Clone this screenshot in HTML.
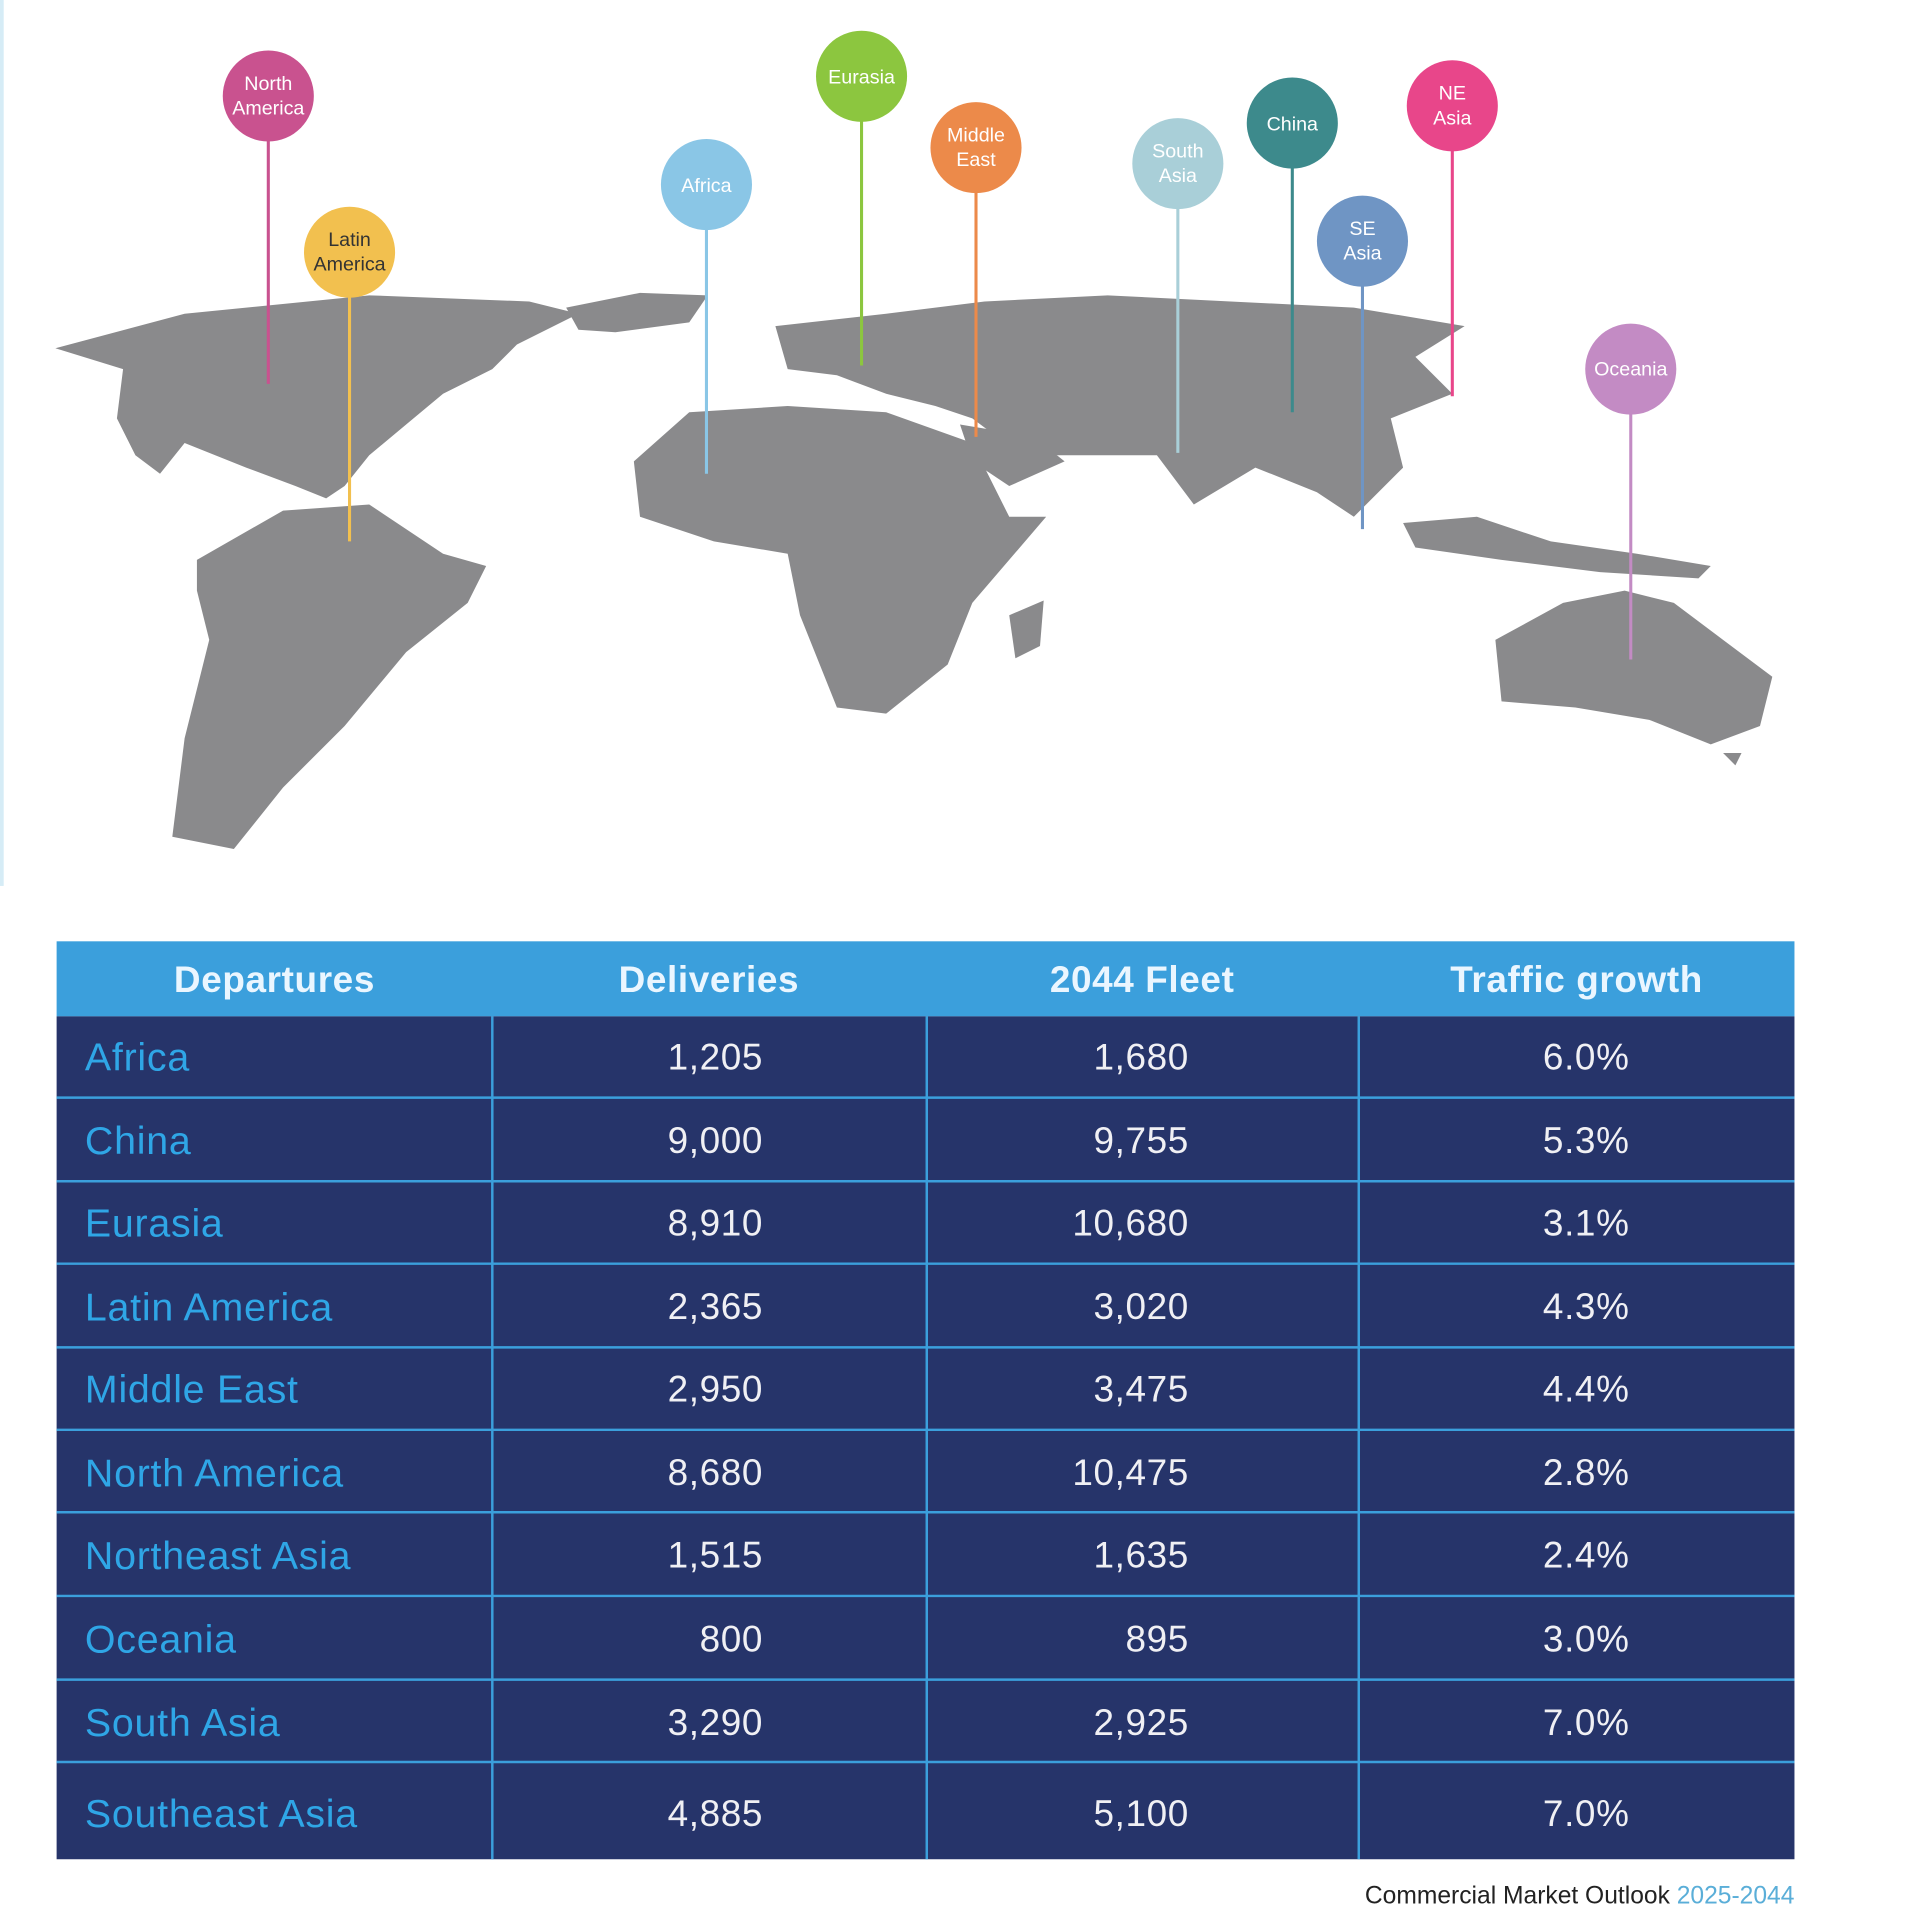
<!DOCTYPE html>
<html><head><meta charset="utf-8"><style>
html,body{margin:0;padding:0;background:#fff;}
svg{display:block}
text{font-family:"Liberation Sans",sans-serif}
</style></head><body>
<svg width="1920" height="1922" viewBox="0 0 1560 1562" preserveAspectRatio="none" xmlns="http://www.w3.org/2000/svg">
<rect width="1560" height="1562" fill="#fff"/>
<rect x="0" y="0" width="3" height="720" fill="#d6ecf6"/>
<g fill="#8a8a8c">
<path d="M45,283 L150,255 L300,240 L430,245 L470,255 L420,280 L400,300 L360,320 L330,345 L300,370 L280,395 L265,405 L240,395 L200,380 L150,360 L130,385 L110,370 L95,340 L100,300 Z"/>
<path d="M460,250 L520,238 L575,240 L560,262 L500,270 L470,268 Z"/>
<path d="M160,455 L230,415 L300,410 L360,450 L395,460 L380,490 L330,530 L280,590 L230,640 L190,690 L140,680 L150,600 L170,520 L160,480 Z"/>
<path d="M515,375 L560,335 L640,330 L720,335 L790,360 L820,420 L850,420 L790,490 L770,540 L720,580 L680,575 L650,500 L640,450 L580,440 L520,420 Z"/>
<path d="M630,265 L720,255 L800,245 L900,240 L1000,245 L1100,250 L1190,265 L1150,290 L1180,320 L1130,340 L1140,380 L1100,420 L1070,400 L1020,380 L970,410 L940,370 L870,370 L830,370 L790,340 L760,330 L720,320 L680,305 L640,300 Z"/>
<path d="M780,345 L840,355 L865,375 L820,395 L790,375 Z"/>
<path d="M820,500 L848,488 L845,525 L825,535 Z"/>
<path d="M1140,425 L1200,420 L1260,440 L1330,450 L1390,460 L1380,470 L1300,465 L1220,455 L1150,445 Z"/>
<path d="M1215,520 L1270,490 L1320,480 L1360,490 L1400,520 L1440,550 L1430,590 L1390,605 L1340,585 L1280,575 L1220,570 Z"/>
<path d="M1400,612 L1415,612 L1410,622 Z"/>
</g>
<g stroke-width="2.5">
<line x1="218" y1="78" x2="218" y2="312" stroke="#c9528f"/>
<line x1="284" y1="205" x2="284" y2="440" stroke="#f2c04f"/>
<line x1="574" y1="150" x2="574" y2="385" stroke="#8ac6e6"/>
<line x1="700" y1="62" x2="700" y2="297" stroke="#8cc63f"/>
<line x1="793" y1="120" x2="793" y2="355" stroke="#ec8a4a"/>
<line x1="957" y1="133" x2="957" y2="368" stroke="#a9cfd8"/>
<line x1="1050" y1="100" x2="1050" y2="335" stroke="#3d8a8c"/>
<line x1="1107" y1="196" x2="1107" y2="430" stroke="#6f95c4"/>
<line x1="1180" y1="86" x2="1180" y2="322" stroke="#e8468a"/>
<line x1="1325" y1="300" x2="1325" y2="536" stroke="#c38bc4"/>
</g>
<g>
<circle cx="218" cy="78" r="37" fill="#c9528f"/>
<circle cx="284" cy="205" r="37" fill="#f2c04f"/>
<circle cx="574" cy="150" r="37" fill="#8ac6e6"/>
<circle cx="700" cy="62" r="37" fill="#8cc63f"/>
<circle cx="793" cy="120" r="37" fill="#ec8a4a"/>
<circle cx="957" cy="133" r="37" fill="#a9cfd8"/>
<circle cx="1050" cy="100" r="37" fill="#3d8a8c"/>
<circle cx="1107" cy="196" r="37" fill="#6f95c4"/>
<circle cx="1180" cy="86" r="37" fill="#e8468a"/>
<circle cx="1325" cy="300" r="37" fill="#c38bc4"/>
</g>
<g font-size="16" fill="#fff" text-anchor="middle">
<text x="218" y="73">North</text><text x="218" y="93">America</text>
<text x="284" y="200" fill="#333">Latin</text><text x="284" y="220" fill="#333">America</text>
<text x="574" y="156">Africa</text>
<text x="700" y="68">Eurasia</text>
<text x="793" y="115">Middle</text><text x="793" y="135">East</text>
<text x="957" y="128">South</text><text x="957" y="148">Asia</text>
<text x="1050" y="106">China</text>
<text x="1107" y="191">SE</text><text x="1107" y="211">Asia</text>
<text x="1180" y="81">NE</text><text x="1180" y="101">Asia</text>
<text x="1325" y="305">Oceania</text>
</g>
<rect x="46" y="765" width="1412" height="61" fill="#3b9fdc"/>
<rect x="46" y="826" width="1412" height="685" fill="#26346a"/>
<g stroke="#3b9fdc" stroke-width="2">
<line x1="46" y1="892" x2="1458" y2="892"/><line x1="46" y1="960" x2="1458" y2="960"/>
<line x1="46" y1="1027" x2="1458" y2="1027"/><line x1="46" y1="1095" x2="1458" y2="1095"/>
<line x1="46" y1="1162" x2="1458" y2="1162"/><line x1="46" y1="1229" x2="1458" y2="1229"/>
<line x1="46" y1="1297" x2="1458" y2="1297"/><line x1="46" y1="1365" x2="1458" y2="1365"/>
<line x1="46" y1="1432" x2="1458" y2="1432"/>
<line x1="400" y1="826" x2="400" y2="1511"/><line x1="753" y1="826" x2="753" y2="1511"/><line x1="1104" y1="826" x2="1104" y2="1511"/>
</g>
<g font-size="30" font-weight="bold" fill="#eaf6ff" text-anchor="middle" letter-spacing="0.5">
<text x="223" y="806">Departures</text><text x="576" y="806">Deliveries</text>
<text x="928" y="806">2044 Fleet</text><text x="1281" y="806">Traffic growth</text>
</g>
<g font-size="32" fill="#2fa6e6" letter-spacing="0.6">
<text x="69" y="870">Africa</text><text x="69" y="938">China</text><text x="69" y="1005">Eurasia</text>
<text x="69" y="1073">Latin America</text><text x="69" y="1140">Middle East</text><text x="69" y="1208">North America</text>
<text x="69" y="1275">Northeast Asia</text><text x="69" y="1343">Oceania</text><text x="69" y="1411">South Asia</text>
<text x="69" y="1485">Southeast Asia</text>
</g>
<g font-size="30" fill="#f0f0f4" text-anchor="end" letter-spacing="0.5">
<text x="620" y="869">1,205</text><text x="620" y="937">9,000</text><text x="620" y="1004">8,910</text>
<text x="620" y="1072">2,365</text><text x="620" y="1139">2,950</text><text x="620" y="1207">8,680</text>
<text x="620" y="1274">1,515</text><text x="620" y="1342">800</text><text x="620" y="1410">3,290</text><text x="620" y="1484">4,885</text>
<text x="966" y="869">1,680</text><text x="966" y="937">9,755</text><text x="966" y="1004">10,680</text>
<text x="966" y="1072">3,020</text><text x="966" y="1139">3,475</text><text x="966" y="1207">10,475</text>
<text x="966" y="1274">1,635</text><text x="966" y="1342">895</text><text x="966" y="1410">2,925</text><text x="966" y="1484">5,100</text>
<text x="1324" y="869">6.0%</text><text x="1324" y="937">5.3%</text><text x="1324" y="1004">3.1%</text>
<text x="1324" y="1072">4.3%</text><text x="1324" y="1139">4.4%</text><text x="1324" y="1207">2.8%</text>
<text x="1324" y="1274">2.4%</text><text x="1324" y="1342">3.0%</text><text x="1324" y="1410">7.0%</text><text x="1324" y="1484">7.0%</text>
</g>
<text x="1458" y="1547" font-size="20" text-anchor="end" fill="#222">Commercial Market Outlook <tspan fill="#5aaed8">2025-2044</tspan></text>
</svg>
</body></html>
